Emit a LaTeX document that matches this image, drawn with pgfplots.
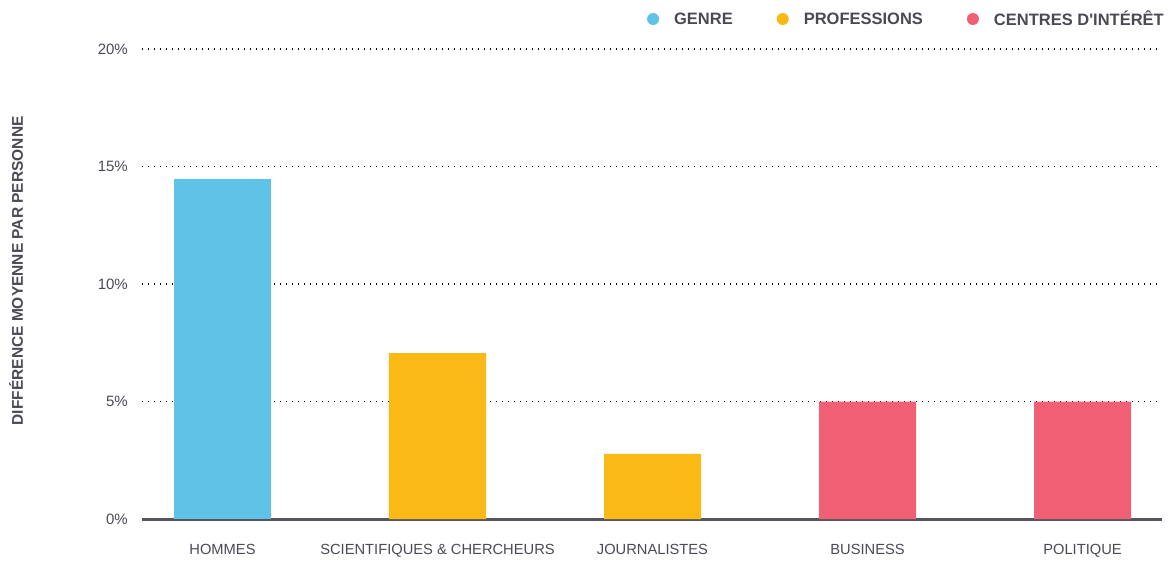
\documentclass[border=0pt]{standalone}
\usepackage{fontspec}
\setmainfont{Liberation Sans}
\usepackage{pgfplots}
\pgfplotsset{compat=1.18}
\definecolor{genre}{HTML}{5EC3E6}
\definecolor{prof}{HTML}{FBB915}
\definecolor{interet}{HTML}{F05F74}
\definecolor{txt}{HTML}{4A4A55}
\definecolor{baseln}{HTML}{55555F}

\begin{document}
\begin{tikzpicture}
\begin{axis}[
  name=ax,
  scale only axis,
  width=1020pt, height=470pt,
  xmin=-0.3744, xmax=4.3698,
  ymin=0, ymax=20,
  ybar,
  axis x line*=bottom, axis y line*=left,
  y axis line style={draw=none},
  x axis line style={draw=baseln, line width=3pt},
  tick style={draw=none},
  major tick length=0pt,
  xtick={0,1,2,3,4},
  xticklabels={HOMMES, SCIENTIFIQUES \& CHERCHEURS, JOURNALISTES, BUSINESS, POLITIQUE},
  xticklabel style={anchor=base, yshift=-35pt, font=\fontsize{14.7}{17}\selectfont, text=txt},
  ytick={0,5,10,15,20},
  yticklabels={0\%,5\%,10\%,15\%,20\%},
  yticklabel style={anchor=east, inner sep=0pt, xshift=-14pt, font=\fontsize{15}{18}\selectfont, text=txt},
  ymajorgrids,
  major grid style={black, line width=1.3pt, dash pattern=on 1.3pt off 4.7pt},
  ylabel={DIFFÉRENCE MOYENNE PAR PERSONNE},
  ylabel style={at={(axis description cs:-0.1235,0.528)}, anchor=center, font=\fontsize{15.5}{18}\selectfont\bfseries, text=txt},
  legend image code/.code={\fill[#1, draw=none] (0pt,0pt) circle (6pt);},
  legend columns=3,
  legend style={draw=none, fill=none, inner sep=0pt, at={(axis description cs:1,1)}, anchor=east, yshift=30pt, xshift=4pt,
    font=\fontsize{16.5}{19}\selectfont\bfseries, text=txt,
    cells={inner xsep=0pt},
    /tikz/every odd column/.append style={column sep=13pt},
    /tikz/every even column/.append style={column sep=42pt}},
]
\addlegendimage{fill=genre, draw=none}
\addlegendentry{GENRE}
\addlegendimage{fill=prof, draw=none}
\addlegendentry{PROFESSIONS}
\addlegendimage{fill=interet, draw=none}
\addlegendentry{CENTRES D\textquotesingle INTÉRÊT}
\addplot[fill=genre, draw=none, bar width=97pt, bar shift=0pt, forget plot] coordinates {(0,14.45)};
\addplot[fill=prof, draw=none, bar width=97pt, bar shift=0pt, forget plot] coordinates {(1,7.06) (2,2.77)};
\addplot[fill=interet, draw=none, bar width=97pt, bar shift=0pt, forget plot] coordinates {(3,5.0) (4,5.0)};
\end{axis}
\path ([xshift=-142pt,yshift=-38pt]ax.south west) rectangle ([xshift=8pt,yshift=49pt]ax.north east);
\end{tikzpicture}
\end{document}
